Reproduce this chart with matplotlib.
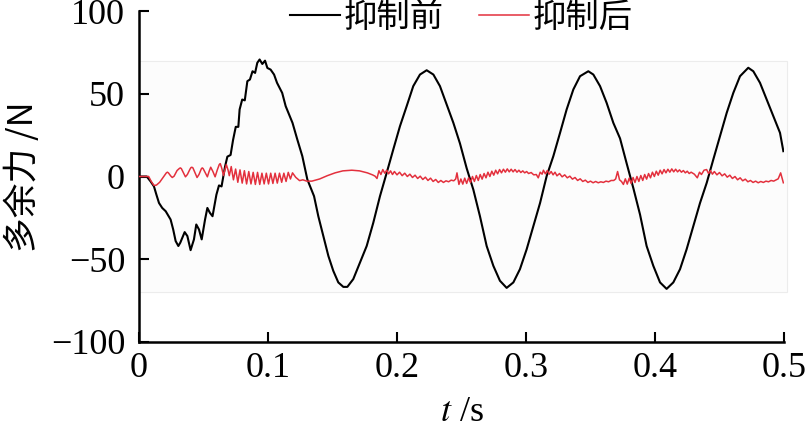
import matplotlib
matplotlib.use("Agg")
import matplotlib.pyplot as plt
from matplotlib.patches import Rectangle

# 抑制前 (black)
t_before = [0.000, 0.006, 0.009, 0.0116, 0.0135, 0.0155, 0.018, 0.0207, 0.0245, 0.0265,
            0.0284, 0.0305, 0.032, 0.0354, 0.0375, 0.040, 0.0426, 0.0444, 0.0465, 0.0486,
            0.0512, 0.053, 0.055, 0.057, 0.060, 0.062, 0.064, 0.0667, 0.0685, 0.071,
            0.0729, 0.075, 0.077, 0.078, 0.080, 0.082, 0.084, 0.086, 0.088, 0.090,
            0.0917, 0.0935, 0.0956, 0.0977, 0.0995, 0.102, 0.1047, 0.107, 0.111, 0.1137,
            0.119, 0.1227, 0.1266, 0.1305, 0.1357, 0.139, 0.1429, 0.1468, 0.1506, 0.1545,
            0.1584, 0.1615, 0.1661, 0.1713, 0.1765, 0.1816, 0.1868, 0.192, 0.1971, 0.2023,
            0.2075, 0.2126, 0.2178, 0.223, 0.2282, 0.2333, 0.2385, 0.2437, 0.2488, 0.254,
            0.2592, 0.2643, 0.2695, 0.2747, 0.2798, 0.285, 0.2902, 0.2953, 0.3005, 0.3057,
            0.3109, 0.316, 0.3212, 0.3264, 0.3315, 0.3367, 0.3419, 0.3483, 0.3522, 0.3574,
            0.3625, 0.3677, 0.3729, 0.378, 0.3832, 0.3884, 0.3935, 0.3987, 0.4039, 0.409,
            0.4142, 0.4194, 0.4245, 0.4297, 0.4349, 0.4401, 0.4452, 0.4504, 0.4556, 0.4607,
            0.4659, 0.4723, 0.4762, 0.4814, 0.4866, 0.4917, 0.4969, 0.4995]
f_before = [0.0, 0.0, -3, -6, -11, -16, -19, -21, -26, -32,
            -39, -42, -40, -33.6, -36, -44.5, -38, -29, -32, -38,
            -26, -19, -22, -24, -11, -5.4, -6, 6, 12, 13,
            22, 30, 30, 40.5, 46.5, 46, 57.6, 58.6, 63.6, 62.6,
            68.7, 70.7, 68, 70, 65.6, 64.6, 61.6, 56.6, 50.5, 42.5,
            32.4, 22.4, 12.3, -1.8, -11.9, -24, -36, -48, -57, -64,
            -66.7, -66.7, -62, -52, -42, -28, -11.9, 2.2, 16.3, 30.4,
            42.5, 54.6, 61.6, 64.2, 61.6, 54.6, 43.5, 32.4, 20, 5,
            -8, -24, -42, -54, -63, -67.3, -64, -56, -44, -30,
            -16, 0.2, 12.3, 26.4, 40.5, 52.6, 60.6, 63.6, 61.6, 54.6,
            44.5, 32.4, 23, 8, -7, -23, -42, -54, -64, -67.9,
            -64, -56, -44, -30, -16, -3.8, 10.3, 24.4, 38.5, 50.5,
            60.6, 65.7, 63.6, 56.6, 46.5, 36.5, 26.4, 15.3]

# 抑制后 (red)
t_after = [0.000, 0.0075, 0.0095, 0.0116, 0.0135, 0.016, 0.019, 0.0212, 0.022, 0.0228,
           0.0245, 0.0258, 0.0272, 0.0295, 0.0312, 0.032, 0.0328, 0.0345, 0.036, 0.0375,
           0.0395, 0.0403, 0.041, 0.0418, 0.0435, 0.045, 0.0465, 0.0483, 0.049, 0.0497,
           0.0515, 0.053, 0.0543, 0.0556, 0.0573, 0.059, 0.0607, 0.0622, 0.063, 0.0643,
           0.0655, 0.0666, 0.0677, 0.069, 0.070,
           0.0715, 0.0732, 0.0749, 0.0766, 0.0783, 0.080, 0.0817, 0.0834, 0.0851, 0.0868,
           0.0885, 0.0902, 0.0919, 0.0936, 0.0953, 0.097, 0.0987, 0.1004, 0.1021, 0.1038,
           0.1055, 0.1072, 0.1089, 0.1106, 0.1123, 0.114, 0.1157, 0.1174, 0.119, 0.1215,
           0.1245, 0.127, 0.130, 0.134, 0.140, 0.146, 0.152, 0.158, 0.165, 0.171,
           0.177, 0.181, 0.183, 0.1845, 0.186, 0.1875, 0.189, 0.1905, 0.192, 0.1935,
           0.195, 0.1965, 0.198, 0.200, 0.202, 0.204, 0.206, 0.208, 0.210, 0.212,
           0.214, 0.216, 0.218, 0.220, 0.222, 0.224, 0.226, 0.228, 0.230, 0.232,
           0.234, 0.236, 0.238, 0.240, 0.242, 0.244, 0.2455, 0.2465, 0.248, 0.2495,
           0.251, 0.2525, 0.254, 0.2555, 0.257, 0.2585, 0.260, 0.2615, 0.263, 0.2645,
           0.266, 0.2675, 0.269, 0.2705, 0.272, 0.2735, 0.275, 0.2765, 0.278, 0.2795,
           0.281, 0.2825, 0.284, 0.2855, 0.287, 0.2885, 0.290, 0.2915, 0.293, 0.2945,
           0.296, 0.2975, 0.299, 0.3005, 0.302, 0.304, 0.306, 0.308, 0.3095, 0.311,
           0.3125, 0.3135, 0.315, 0.3165, 0.318, 0.3195, 0.321, 0.3225, 0.324, 0.326,
           0.328, 0.330, 0.332, 0.334, 0.336, 0.338, 0.340, 0.342, 0.344, 0.346,
           0.348, 0.350, 0.352, 0.354, 0.356, 0.358, 0.360, 0.362, 0.364, 0.366,
           0.368, 0.3695, 0.371, 0.3725, 0.374, 0.3755, 0.377, 0.3785, 0.380, 0.3815,
           0.383, 0.3845, 0.386, 0.3875, 0.389, 0.3905, 0.392, 0.3935, 0.395, 0.3965,
           0.398, 0.3995, 0.401, 0.4025, 0.404, 0.4055, 0.407, 0.4085, 0.410, 0.4115,
           0.413, 0.4145, 0.416, 0.4175, 0.419, 0.4205, 0.422, 0.4235, 0.425, 0.4265,
           0.428, 0.4305, 0.4328, 0.4345, 0.436, 0.438, 0.440, 0.4415, 0.443, 0.4445,
           0.446, 0.448, 0.450, 0.452, 0.454, 0.456, 0.458, 0.460, 0.462, 0.464,
           0.466, 0.468, 0.470, 0.472, 0.474, 0.476, 0.478, 0.480, 0.482, 0.484,
           0.486, 0.488, 0.490, 0.492, 0.494, 0.4955, 0.4974, 0.4995]
f_after = [0.0, 0.0, -3, -5.4, -5.2, -3.5, -0.2, 2.2, 2.6, 2.2,
           0.4, -0.6, 0.2, 3.6, 4.8, 5.2, 4.8, 2.2, -0.2, 1.2,
           4.4, 5.4, 5.6, 5.2, 2.2, -0.6, 1.2, 4.6, 5.2, 4.8,
           2.0, -0.2, 3.0, 5.6, 3.0, -0.2, 4.0, 7.2, 7.8, 4.6,
           0.6, 4.0, 7.2, 4.0, 0.5,
           6, -2, 4.5, -3.5, 4, -4, 3.5, -4.5, 3, -4.5,
           2.5, -4.8, 2.5, -4.8, 2, -4.5, 2, -4.5, 2, -4.2,
           2, -4, 2, -3.5, 2, -3, 2.5, -1.5, 2.2, -0.5,
           -2.5, -2, -2.8, -2.8, -1.5, 0.5, 2.2, 3.4, 3.8, 3.4,
           2.2, 1.0, 0.2, -1.2, 3.5, 1.2, 4.2, 2.0, 3.8, 1.6,
           3.4, 1.2, 3.0, 1.0, 2.6, 0.5, 2.0, 0.0, 1.4, -0.6,
           0.8, -1.2, 0.2, -1.8, -0.4, -2.4, -1.0, -3.0, -1.8, -3.6,
           -2.4, -3.6, -2.6, -3.2, -2.2, -2.6, -1.5, 2.2, -4.8, -1.5,
           -4.6, -1.0, -4.2, -0.8, -3.6, 0.0, -3.0, 0.6, -2.4, 1.2,
           -1.6, 1.8, -0.8, 2.6, 0.0, 3.2, 0.8, 3.8, 1.6, 4.2,
           2.2, 4.4, 2.6, 4.6, 2.8, 4.4, 2.8, 4.2, 2.6, 3.8,
           2.4, 3.4, 2.2, 3.0, 1.8, 2.4, 1.0, 1.2, -0.8, 2.6,
           1.4, 3.8, 1.6, 3.6, 1.4, 3.0, 1.0, 2.6, 0.4, 1.8,
           -0.2, 1.0, -0.8, 0.2, -1.6, -0.6, -2.4, -1.4, -3.0, -2.2,
           -3.6, -2.8, -3.8, -3.0, -3.8, -3.2, -3.6, -2.8, -3.2, -2.4,
           -2.4, -1.5, 3.0, -2.0, -3.0, -4.8, -1.4, -4.6, -1.0, -4.2,
           -0.6, -3.6, 0.0, -3.0, 0.6, -2.4, 1.2, -1.6, 1.8, -0.8,
           2.6, 0.0, 3.2, 0.8, 3.8, 1.6, 4.2, 2.2, 4.4, 2.6,
           4.6, 2.8, 4.4, 2.8, 4.0, 2.6, 3.6, 2.2, 3.2, 1.8,
           2.6, 1.4, -0.8, 2.6, 1.2, 3.8, 4.2, 1.8, 3.6, 1.4,
           3.0, 1.0, 2.4, 0.4, 1.6, -0.4, 0.8, -1.2, 0.0, -2.0,
           -0.8, -2.6, -1.6, -3.2, -2.4, -3.6, -2.8, -3.8, -3.0, -3.6,
           -2.8, -3.2, -2.4, -2.8, -2.0, -1.4, 2.2, -3.8]

x_ticks = [0, 0.1, 0.2, 0.3, 0.4, 0.5]
x_ticklabels = ["0", "0.1", "0.2", "0.3", "0.4", "0.5"]
y_ticks = [-100, -50, 0, 50, 100]
y_ticklabels = ["\u2212100", "\u221250", "0", "50", "100"]

plt.rcParams["mathtext.fontset"] = "stix"

SERIF = ["Liberation Serif", "DejaVu Serif"]
CJK = ["Noto Sans CJK SC", "Liberation Serif", "DejaVu Sans"]
RED = "#e3303d"

fig = plt.figure(figsize=(8.08, 4.38), dpi=100)
ax = fig.add_axes([139 / 808, 1 - 342 / 438, 645 / 808, 331 / 438])

# faint grey panel behind the curves (as in the scanned figure)
ax.add_patch(Rectangle((0, -70), 0.5025, 140, facecolor="#fcfcfc", edgecolor="#ececec",
                       linewidth=0.8, zorder=0, clip_on=False))

ax.plot(t_before, f_before, color="black", linewidth=1.5, label="抑制前", zorder=3)
ax.plot(t_after, f_after, color=RED, linewidth=1.1, label="抑制后", zorder=4)

ax.set_xlim(0, 0.5)
ax.set_ylim(-100, 100)
ax.set_xticks(x_ticks)
ax.set_xticklabels(x_ticklabels, family=SERIF, fontsize=26)
ax.set_yticks(y_ticks)
ax.set_yticklabels(y_ticklabels, family=SERIF, fontsize=26)
ax.tick_params(direction="in", length=7, width=1.5, pad=10)
ax.tick_params(axis="x", pad=7)

for side in ["top", "right"]:
    ax.spines[side].set_visible(False)
for side in ["left", "bottom"]:
    ax.spines[side].set_linewidth(1.8)

ax.set_ylabel("多余力 /N", family=CJK, fontsize=25)
ax.yaxis.set_label_coords(-0.152, 0.5)
ax.set_xlabel("$t$ /s", family=SERIF, fontsize=26, labelpad=8)

leg = ax.legend(loc="upper center", bbox_to_anchor=(0.50, 1.075), ncol=2, frameon=False,
                prop={"family": CJK, "size": 24}, handlelength=1.5, handletextpad=0.12,
                columnspacing=1.05, borderaxespad=0)

fig.savefig("out.png", dpi=100, facecolor="white")
